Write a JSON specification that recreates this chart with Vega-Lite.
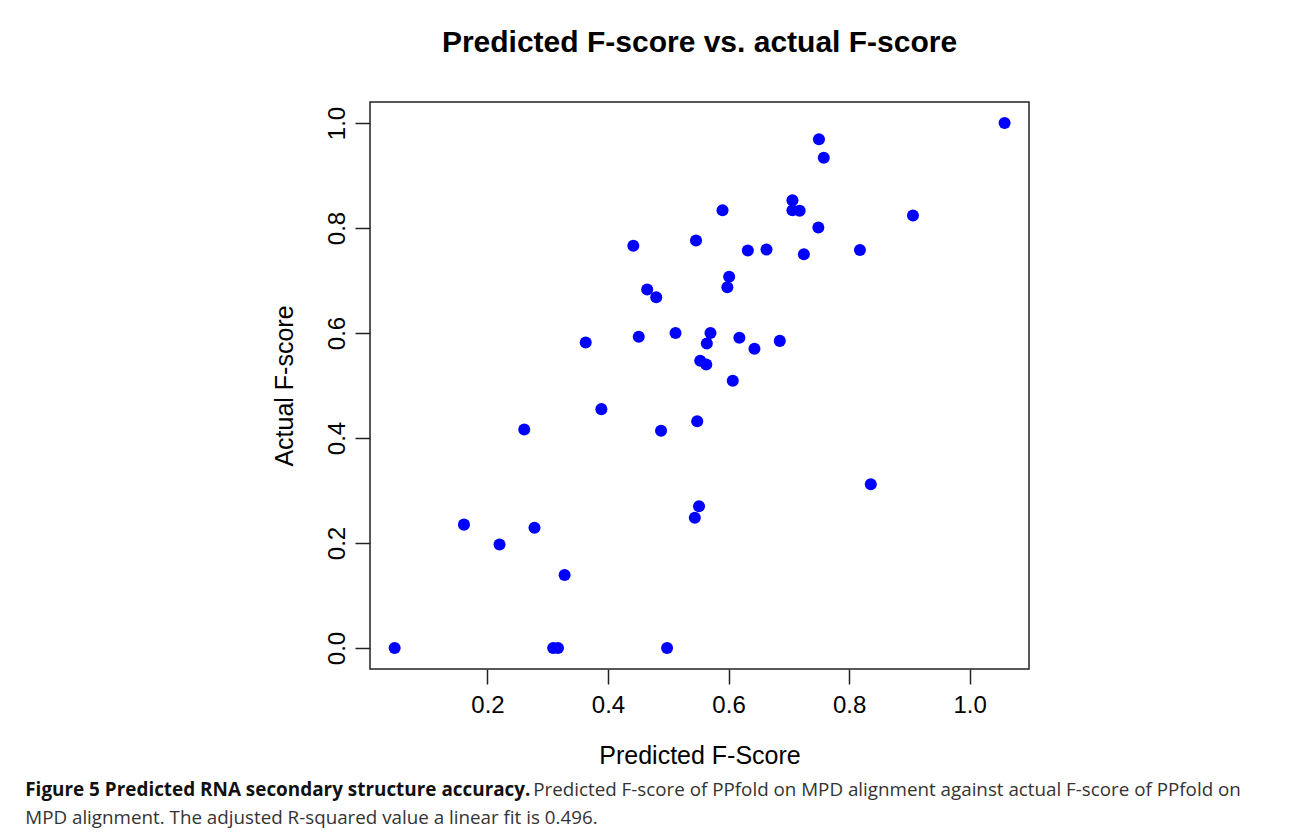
{
  "$schema": "https://vega.github.io/schema/vega-lite/v6.json",
  "padding": {"left": 25, "top": 27, "right": 5, "bottom": 5},
  "background": "#ffffff",
  "title": {"text": "MPD alignment. The adjusted R-squared value a linear fit is 0.496.", "orient": "bottom", "anchor": "start", "font": "Open Sans", "fontSize": 18.8, "fontWeight": "normal", "color": "#333333", "baseline": "top", "offset": 9},
  "vconcat": [
    {
      "title": {"text": "Figure 5 Predicted RNA secondary structure accuracy.", "orient": "bottom", "anchor": "start", "font": "Open Sans", "fontSize": 18.9, "fontWeight": "bold", "color": "#111111", "baseline": "top", "offset": 0, "dx": -246, "dy": -19},
      "vconcat": [
        {
          "title": {"text": "Predicted F-score of PPfold on MPD alignment against actual F-score of PPfold on", "orient": "bottom", "anchor": "start", "font": "Open Sans", "fontSize": 18.8, "fontWeight": "normal", "color": "#333333", "baseline": "top", "offset": 12, "dx": 262},
          "vconcat": [
            {
              "title": {"text": "Predicted F-score vs. actual F-score", "anchor": "middle", "frame": "group", "font": "Liberation Sans", "fontSize": 30, "fontWeight": "bold", "color": "#000000", "baseline": "alphabetic", "offset": 20},
              "width": 659,
              "height": 567,
              "data": {"values": [
                {"pred": 0.442, "actual": 0.766},
                {"pred": 0.546, "actual": 0.776},
                {"pred": 0.465, "actual": 0.683},
                {"pred": 0.480, "actual": 0.668},
                {"pred": 0.363, "actual": 0.582},
                {"pred": 0.451, "actual": 0.593},
                {"pred": 0.512, "actual": 0.600},
                {"pred": 1.058, "actual": 1.000},
                {"pred": 0.750, "actual": 0.969},
                {"pred": 0.758, "actual": 0.934},
                {"pred": 0.706, "actual": 0.853},
                {"pred": 0.706, "actual": 0.834},
                {"pred": 0.718, "actual": 0.833},
                {"pred": 0.590, "actual": 0.834},
                {"pred": 0.906, "actual": 0.824},
                {"pred": 0.749, "actual": 0.801},
                {"pred": 0.632, "actual": 0.757},
                {"pred": 0.663, "actual": 0.759},
                {"pred": 0.725, "actual": 0.750},
                {"pred": 0.818, "actual": 0.758},
                {"pred": 0.601, "actual": 0.707},
                {"pred": 0.598, "actual": 0.687},
                {"pred": 0.570, "actual": 0.600},
                {"pred": 0.564, "actual": 0.580},
                {"pred": 0.618, "actual": 0.591},
                {"pred": 0.643, "actual": 0.570},
                {"pred": 0.685, "actual": 0.585},
                {"pred": 0.553, "actual": 0.547},
                {"pred": 0.563, "actual": 0.540},
                {"pred": 0.607, "actual": 0.509},
                {"pred": 0.389, "actual": 0.455},
                {"pred": 0.261, "actual": 0.416},
                {"pred": 0.488, "actual": 0.414},
                {"pred": 0.548, "actual": 0.432},
                {"pred": 0.836, "actual": 0.312},
                {"pred": 0.551, "actual": 0.270},
                {"pred": 0.544, "actual": 0.248},
                {"pred": 0.161, "actual": 0.235},
                {"pred": 0.220, "actual": 0.197},
                {"pred": 0.278, "actual": 0.229},
                {"pred": 0.328, "actual": 0.139},
                {"pred": 0.046, "actual": 0.000},
                {"pred": 0.309, "actual": 0.000},
                {"pred": 0.317, "actual": 0.000},
                {"pred": 0.498, "actual": 0.000}
              ]},
              "mark": {"type": "point", "filled": true, "shape": "circle", "size": 145, "color": "#0000ff", "opacity": 1},
              "encoding": {
                "x": {"field": "pred", "type": "quantitative", "scale": {"domain": [0.0051, 1.0985], "nice": false, "zero": false}, "axis": {"values": [0.2, 0.4, 0.6, 0.8, 1.0], "format": ".1f", "title": "Predicted F-Score", "labelPadding": 9, "titlePadding": 26, "labelFlush": false}},
                "y": {"field": "actual", "type": "quantitative", "scale": {"domain": [-0.04, 1.04], "nice": false, "zero": false}, "axis": {"values": [0, 0.2, 0.4, 0.6, 0.8, 1.0], "format": ".1f", "title": "Actual F-score", "labelAngle": -90, "labelAlign": "center", "labelBaseline": "alphabetic", "labelPadding": 11, "titlePadding": 28, "labelFlush": false}}
              }
            }
          ]
        }
      ]
    }
  ],
  "config": {
    "view": {"stroke": "#222222", "strokeWidth": 1.5},
    "concat": {"spacing": 0},
    "axis": {"domain": false, "grid": false, "ticks": true, "tickSize": 15, "tickWidth": 1.5, "tickColor": "#222222", "labelFont": "Liberation Sans", "labelFontSize": 24, "labelColor": "#000000", "titleFont": "Liberation Sans", "titleFontSize": 25, "titleFontWeight": "normal", "titleColor": "#000000"}
  }
}
